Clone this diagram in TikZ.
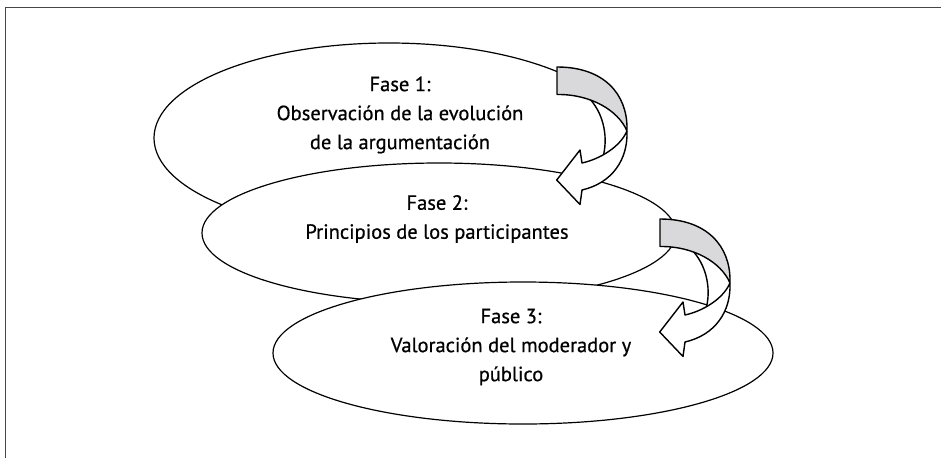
\documentclass[tikz,border=0pt]{standalone}
\usepackage{fontspec}
\setmainfont[FakeBold=0.6]{PT Sans}
\usetikzlibrary{shapes.geometric}
\definecolor{bandgray}{RGB}{217,217,220}
\definecolor{framegray}{RGB}{70,70,70}
\tikzset{
  phase/.style={ellipse, draw=black, line width=1.2pt, fill=white, inner sep=0pt},
  phasetext/.style={align=center, font=\fontsize{20.5}{29}\selectfont, inner sep=0pt},
  arrowline/.style={draw=black, line width=1.4pt, line join=round},
  curvedarrow/.pic={
    \fill[white] (588,97) -- (627,125) -- (627,131)
      .. controls (628,160) and (612,183) .. (582,190)
      -- (580,204.5) -- (556.7,180) -- (580,150) -- (582,163)
      .. controls (589.2,161.4) and (596.7,158.5) .. (603.6,154.6)
      .. controls (608,135) and (603,112) .. (588,97) -- cycle;
    \draw[arrowline] (627,131) .. controls (628,160) and (612,183) .. (582,190)
      -- (580,204.5) -- (556.7,180) -- (580,150) -- (582,163)
      .. controls (600,159) and (620,147) .. (627,131);
    \draw[arrowline] (588,97) .. controls (603,112) and (608,135) .. (603.6,154.6);
    \filldraw[arrowline, fill=bandgray] (557,67) .. controls (605,67) and (627,95) .. (627,128)
      -- (627,131) .. controls (618,110) and (590,94) .. (557,94.5) -- cycle;
  }
}
\begin{document}
\begin{tikzpicture}[x=1pt,y=-1pt]
\useasboundingbox (0,0) rectangle (941,458);
\draw[framegray, line width=0.9pt] (5,458) -- (5,7) -- (941,7);
\node[phase, minimum width=470pt, minimum height=190pt] (e1) at (389,138) {};
\node[phase, minimum width=474pt, minimum height=140pt] (e2) at (439,233) {};
\node[phase, minimum width=500pt, minimum height=142pt] (e3) at (523,353) {};
\node[phasetext] (t1) at (400,115) {Fase 1:\\Observación de la evolución\\de la argumentación};
\node[phasetext] (t2) at (437,219) {Fase 2:\\Principios de los participantes};
\node[phasetext] (t3) at (511,347) {Fase 3:\\Valoración del moderador y\\público};
\pic at (0,0) {curvedarrow};
\pic at (103,152) {curvedarrow};
\end{tikzpicture}
\end{document}
